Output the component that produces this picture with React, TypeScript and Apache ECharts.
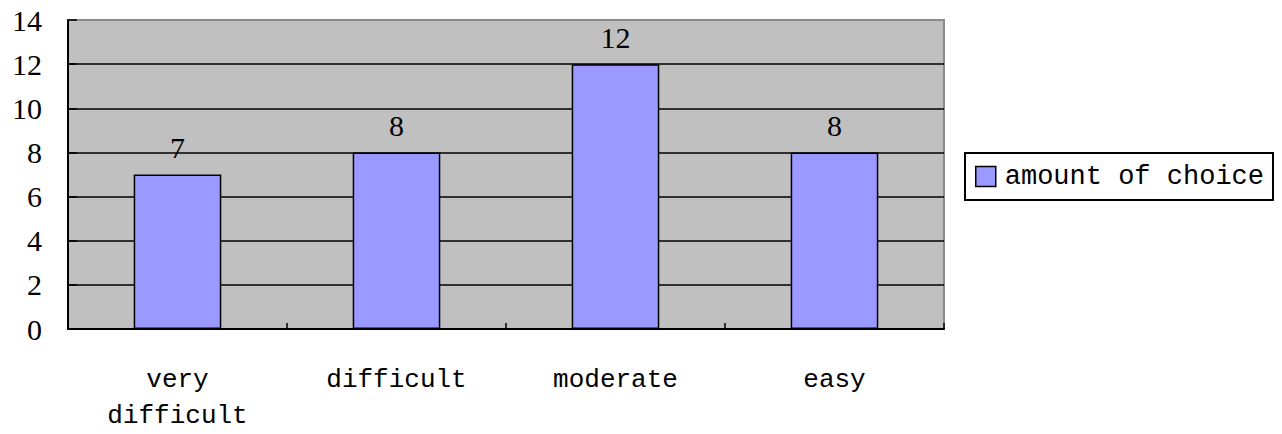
import React, { useEffect, useRef } from "react";
import * as echarts from "echarts";

const categories = ["very\ndifficult", "difficult", "moderate", "easy"];
const amountOfChoice = [7, 8, 12, 8];
const seriesName = "amount of choice";

export default function App() {
  const ref = useRef<HTMLDivElement>(null);
  useEffect(() => {
    if (!ref.current) return;
    const chart = echarts.init(ref.current, null, { renderer: "svg" });
    chart.setOption({
      animation: false,
      backgroundColor: "#ffffff",
      grid: {
        left: 68,
        top: 20,
        right: 338,
        bottom: 101,
        show: true,
        backgroundColor: "#C0C0C0",
        borderColor: "#8a8a8a",
        borderWidth: 2,
      },
      legend: {
        show: true,
        left: 965,
        top: 153,
        orient: "vertical",
        borderColor: "#000",
        borderWidth: 2,
        borderRadius: 0,
        padding: [10, 9, 10, 10],
        icon: "rect",
        itemWidth: 20,
        itemHeight: 20,
        itemStyle: { borderColor: "#000", borderWidth: 1.5 },
        textStyle: {
          fontFamily: "Liberation Mono",
          fontSize: 27,
          color: "#000",
          padding: [0, 0, 0, 4],
        },
        data: [seriesName],
      },
      xAxis: {
        type: "category",
        data: categories,
        axisLine: { show: true, lineStyle: { color: "#000", width: 2 } },
        axisTick: { show: true, inside: true, length: 6, lineStyle: { color: "#000", width: 1.5 } },
        axisLabel: {
          fontFamily: "Liberation Mono",
          fontSize: 26,
          color: "#000",
          margin: 33,
          lineHeight: 36,
        },
        splitLine: { show: false },
      },
      yAxis: {
        type: "value",
        min: 0,
        max: 14,
        interval: 2,
        axisLine: { show: true, lineStyle: { color: "#000", width: 2 } },
        axisTick: { show: true, inside: true, length: 9, lineStyle: { color: "#000", width: 1.5 } },
        axisLabel: {
          fontFamily: "Liberation Serif",
          fontSize: 30,
          color: "#000",
          margin: 26,
        },
        splitLine: {
          show: true,
          showMinLine: false,
          showMaxLine: false,
          lineStyle: { color: "#000", width: 1.5 },
        },
      },
      series: [
        {
          name: seriesName,
          type: "bar",
          data: amountOfChoice,
          barWidth: "40%",
          itemStyle: { color: "#9999FF", borderColor: "#000", borderWidth: 1.5 },
          label: {
            show: true,
            position: "top",
            distance: 12,
            fontFamily: "Liberation Serif",
            fontSize: 30,
            color: "#000",
          },
        },
      ],
    });
    return () => chart.dispose();
  }, []);
  return (
    <div
      ref={ref}
      style={{ position: "fixed", left: 0, top: 0, width: 1282, height: 434 }}
    />
  );
}
